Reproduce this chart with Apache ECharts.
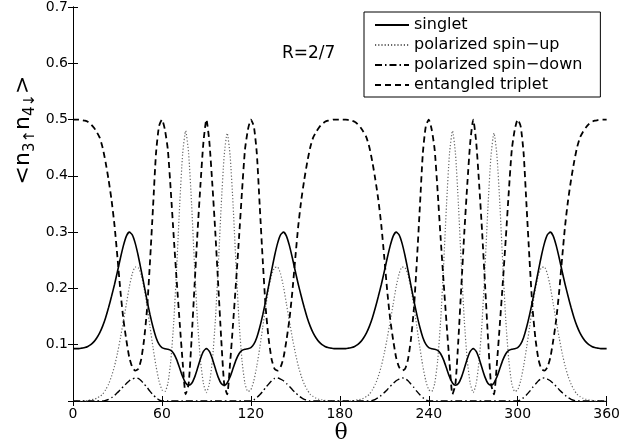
<!DOCTYPE html>
<html><head><meta charset="utf-8">
<script src="https://cdn.jsdelivr.net/npm/echarts@6/dist/echarts.min.js"></script>
<style>html,body{margin:0;padding:0;background:#fff}#c{width:623px;height:447px}</style>
</head><body><div id="c"></div>
<script>
// theta samples: 0,2,4,...,360 degrees
const theta = [];
for (let t = 0; t <= 360; t += 2) theta.push(t);

const xTicks = [0, 60, 120, 180, 240, 300, 360];
const yTicks = [0.1, 0.2, 0.3, 0.4, 0.5, 0.6, 0.7];
const seriesNames = ['singlet', 'polarized spin\u2212up', 'polarized spin\u2212down', 'entangled triplet'];

const singlet = [
 // 0..90
 0.093,0.093,0.093,0.094,0.095,0.097,0.100,0.105,0.112,0.121,0.133,0.148,0.166,0.186,0.207,0.230,0.254,0.276,0.293,0.300,0.295,0.280,0.258,0.232,0.205,0.178,0.153,0.131,0.113,0.101,0.095,0.093,0.092,0.090,0.084,0.073,0.058,0.043,0.032,0.028,0.031,0.042,0.058,0.075,0.088,0.093,
 // 92..180
 0.088,0.075,0.058,0.042,0.031,0.028,0.032,0.043,0.058,0.073,0.084,0.090,0.092,0.093,0.095,0.101,0.113,0.131,0.153,0.178,0.205,0.232,0.258,0.280,0.295,0.300,0.293,0.276,0.254,0.230,0.207,0.186,0.166,0.148,0.133,0.121,0.112,0.105,0.100,0.097,0.095,0.094,0.093,0.093,0.093,
 // 182..270
 0.093,0.093,0.094,0.095,0.097,0.100,0.105,0.112,0.121,0.133,0.148,0.166,0.186,0.207,0.230,0.254,0.276,0.293,0.300,0.295,0.280,0.258,0.232,0.205,0.178,0.153,0.131,0.113,0.101,0.095,0.093,0.092,0.090,0.084,0.073,0.058,0.043,0.032,0.028,0.031,0.042,0.058,0.075,0.088,0.093,
 // 272..360
 0.088,0.075,0.058,0.042,0.031,0.028,0.032,0.043,0.058,0.073,0.084,0.090,0.092,0.093,0.095,0.101,0.113,0.131,0.153,0.178,0.205,0.232,0.258,0.280,0.295,0.300,0.293,0.276,0.254,0.230,0.207,0.186,0.166,0.148,0.133,0.121,0.112,0.105,0.100,0.097,0.095,0.094,0.093,0.093,0.093
];

const spinUp = [
 // 0..90
 0,0,0,0,0,0.001,0.002,0.003,0.005,0.008,0.012,0.020,0.030,0.044,0.062,0.085,0.112,0.142,0.172,0.203,0.226,0.238,0.237,0.224,0.200,0.168,0.131,0.095,0.062,0.036,0.020,0.017,0.031,0.072,0.142,0.240,0.350,0.440,0.480,0.440,0.350,0.240,0.142,0.072,0.031,0.015,
 // 92..180
 0.031,0.072,0.142,0.240,0.348,0.436,0.476,0.436,0.348,0.240,0.142,0.072,0.031,0.017,0.020,0.036,0.062,0.095,0.131,0.168,0.200,0.224,0.237,0.238,0.226,0.203,0.172,0.142,0.112,0.085,0.062,0.044,0.030,0.020,0.012,0.008,0.005,0.003,0.002,0.001,0,0,0,0,0,
 // 182..270
 0,0,0,0,0.001,0.002,0.003,0.005,0.008,0.012,0.020,0.030,0.044,0.062,0.085,0.112,0.142,0.172,0.203,0.226,0.238,0.237,0.224,0.200,0.168,0.131,0.095,0.062,0.036,0.020,0.017,0.031,0.072,0.142,0.240,0.350,0.440,0.480,0.440,0.350,0.240,0.142,0.072,0.031,0.015,
 // 272..360
 0.031,0.072,0.142,0.240,0.348,0.436,0.476,0.436,0.348,0.240,0.142,0.072,0.031,0.017,0.020,0.036,0.062,0.095,0.131,0.168,0.200,0.224,0.237,0.238,0.226,0.203,0.172,0.142,0.112,0.085,0.062,0.044,0.030,0.020,0.012,0.008,0.005,0.003,0.002,0.001,0,0,0,0,0
];

const spinDown = [
 // 0..90
 0,0,0,0,0,0,0,0,0,0,0,0.001,0.003,0.006,0.010,0.015,0.020,0.026,0.031,0.036,0.039,0.041,0.040,0.036,0.030,0.024,0.017,0.011,0.006,0.002,0,0,0,0,0,0,0,0,0,0,0,0,0,0,0,0,
 // 92..180
 0,0,0,0,0,0,0,0,0,0,0,0,0,0,0,0.002,0.006,0.011,0.017,0.024,0.030,0.036,0.040,0.041,0.039,0.036,0.031,0.026,0.020,0.015,0.010,0.006,0.003,0.001,0,0,0,0,0,0,0,0,0,0,0,
 // 182..270
 0,0,0,0,0,0,0,0,0,0,0.001,0.003,0.006,0.010,0.015,0.020,0.026,0.031,0.036,0.039,0.041,0.040,0.036,0.030,0.024,0.017,0.011,0.006,0.002,0,0,0,0,0,0,0,0,0,0,0,0,0,0,0,0,
 // 272..360
 0,0,0,0,0,0,0,0,0,0,0,0,0,0,0,0.002,0.006,0.011,0.017,0.024,0.030,0.036,0.040,0.041,0.039,0.036,0.031,0.026,0.020,0.015,0.010,0.006,0.003,0.001,0,0,0,0,0,0,0,0,0,0,0
];

const triplet = [
 // 0..90
 0.500,0.500,0.500,0.499,0.498,0.496,0.492,0.486,0.478,0.468,0.450,0.424,0.393,0.357,0.312,0.255,0.195,0.145,0.108,0.077,0.060,0.054,0.057,0.074,0.110,0.165,0.250,0.345,0.440,0.488,0.500,0.482,0.446,0.372,0.290,0.212,0.138,0.068,0.012,0.030,0.110,0.205,0.300,0.385,0.460,0.500,
 // 92..180
 0.460,0.385,0.300,0.205,0.110,0.030,0.012,0.068,0.138,0.212,0.290,0.372,0.446,0.482,0.500,0.488,0.440,0.345,0.250,0.165,0.110,0.074,0.057,0.054,0.060,0.077,0.108,0.145,0.195,0.255,0.312,0.357,0.393,0.424,0.450,0.468,0.478,0.486,0.492,0.496,0.498,0.499,0.500,0.500,0.500,
 // 182..270
 0.500,0.500,0.499,0.498,0.496,0.492,0.486,0.478,0.468,0.450,0.424,0.393,0.357,0.312,0.255,0.195,0.145,0.108,0.077,0.060,0.054,0.057,0.074,0.110,0.165,0.250,0.345,0.440,0.488,0.500,0.482,0.446,0.372,0.290,0.212,0.138,0.068,0.012,0.030,0.110,0.205,0.300,0.385,0.460,0.500,
 // 272..360
 0.460,0.385,0.300,0.205,0.110,0.030,0.012,0.068,0.138,0.212,0.290,0.372,0.446,0.482,0.500,0.488,0.440,0.345,0.250,0.165,0.110,0.074,0.057,0.054,0.060,0.077,0.108,0.145,0.195,0.255,0.312,0.357,0.393,0.424,0.450,0.468,0.478,0.486,0.492,0.496,0.498,0.499,0.500,0.500,0.500
];

const pairs = arr => theta.map((t, i) => [t, arr[i]]);

const FONT = 'DejaVu Sans';
const chart = echarts.init(document.getElementById('c'), null, {renderer: 'canvas'});

const axisCommon = {
  min: 0, splitLine: {show: false},
  axisLine: {show: true, lineStyle: {color: '#000', width: 1}},
  axisTick: {show: true, inside: true, length: 5, lineStyle: {color: '#000', width: 1}}
};

chart.setOption({
  animation: false,
  backgroundColor: '#fff',
  grid: {left: 73, right: 14, top: 7, bottom: 46},
  xAxis: [
    Object.assign({}, axisCommon, {type: 'value', position: 'bottom', max: 360, interval: 60,
      axisLabel: {show: true, color: '#000', fontFamily: FONT, fontSize: 14, margin: 6,
        formatter: v => xTicks.includes(v) ? String(v) : ''}}),
    Object.assign({}, axisCommon, {type: 'value', position: 'top', max: 360, interval: 60,
      axisLabel: {show: false}})
  ],
  yAxis: [
    Object.assign({}, axisCommon, {type: 'value', position: 'left', max: 0.7, interval: 0.1,
      axisLabel: {show: true, color: '#000', fontFamily: FONT, fontSize: 14, margin: 5,
        formatter: v => { const f = yTicks.find(t => Math.abs(t - v) < 1e-9); return f === undefined ? '' : f.toFixed(1); }}}),
    Object.assign({}, axisCommon, {type: 'value', position: 'right', max: 0.7, interval: 0.1,
      axisLabel: {show: false}})
  ],
  legend: {
    orient: 'vertical', left: 364, top: 12,
    padding: [5, 18, 4, 10], itemGap: 4, itemWidth: 34, itemHeight: 14,
    borderColor: '#000', borderWidth: 1, backgroundColor: '#fff',
    itemStyle: {opacity: 0, borderWidth: 0},
    textStyle: {color: '#000', fontFamily: FONT, fontSize: 16},
    data: seriesNames
  },
  graphic: [
    {type: 'text', left: 282, top: 45, style: {text: 'R=2/7', fill: '#000', font: '17px "DejaVu Sans"'}},
    {type: 'text', x: 341, y: 433, style: {text: '\u03b8', fill: '#000', font: '22px "DejaVu Serif"', align: 'center', verticalAlign: 'middle'}},
    {type: 'text', x: 23, y: 130, rotation: Math.PI / 2,
      style: {text: '{b|<}{b|n}{s|3\u2191}{b|n}{s|4\u2193}{b|>}', fill: '#000', align: 'center', verticalAlign: 'middle',
        rich: {
          b: {fontFamily: FONT, fontSize: 22, lineHeight: 30, verticalAlign: 'middle', fill: '#000'},
          s: {fontFamily: FONT, fontSize: 15, lineHeight: 16, verticalAlign: 'bottom', fill: '#000'}
        }}}
  ],
  series: [
    {name: seriesNames[0], type: 'line', data: pairs(singlet), symbol: 'none', smooth: 0.2,
      lineStyle: {color: '#000', width: 1.6, type: 'solid'}, itemStyle: {color: '#000'}, z: 4},
    {name: seriesNames[1], type: 'line', data: pairs(spinUp), symbol: 'none', smooth: 0.2,
      lineStyle: {color: '#666', width: 1.2, type: [1.2, 2]}, itemStyle: {color: '#666'}, z: 2},
    {name: seriesNames[2], type: 'line', data: pairs(spinDown), symbol: 'none', smooth: 0.2,
      lineStyle: {color: '#000', width: 1.4, type: [7, 3, 1.5, 3]}, itemStyle: {color: '#000'}, z: 3},
    {name: seriesNames[3], type: 'line', data: pairs(triplet), symbol: 'none', smooth: 0.2,
      lineStyle: {color: '#000', width: 1.8, type: [6, 4]}, itemStyle: {color: '#000'}, z: 5}
  ]
});
</script></body></html>
